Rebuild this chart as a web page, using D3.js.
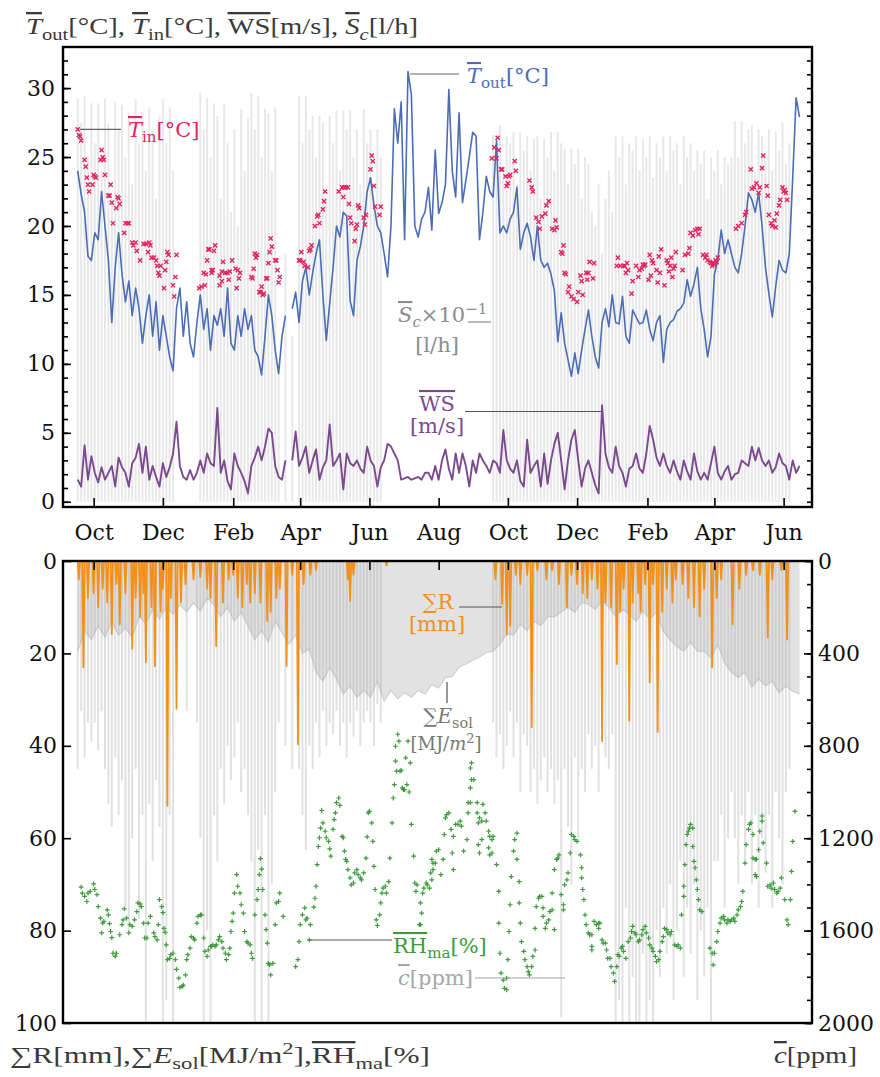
<!DOCTYPE html>
<html>
<head>
<meta charset="utf-8">
<script src="https://cdn.jsdelivr.net/npm/d3@7"></script>
<style>
  body { margin: 0; background: #fff; }
  svg { display: block; }
</style>
</head>
<body>
<svg id="chart" width="880" height="1077"></svg>
<script>
// ---- values ----
const seriesStart = "2020-09-17";   // day 0 of every day-offset below
const stepDays = 3;                 // T_out and WS are sampled every 3 days

const toutValues = [
  24,22.3,21,17.8,17.5,19.5,19,22.5,20,17.5, 13,17,19.5,16.5,14.5,16,13.5,15.5,14,11.5,
  13.5,15,12,14.5,11,13.5,12,10.5,9.5,14, 15.5,12,14.5,11.5,10.5,13,15,12.5,14,11,
  13.5,12.8,14,12,15.5,11.5,11,13.5,12,14, 12.5,13.5,11,10.5,9.2,12,15,13.5,11,9.3,
  12,13.5,null,14,15.2,13,16,17,15,16.6, 18,19,15,11.7,14.4,17,20,19.2,21,20.7,
  14.6,13.5,17.5,18.5,20,22.5,23.5,21.5,20,19.5, 18,16.3,20,28.5,26,29,19,31.2,29.5,20,
  19.2,20.5,21,22.8,19.7,25.5,20.9,21.7,23,29.9, 24,22.1,28.2,21.7,23.3,25,26.8,26.5,19,21,
  23.6,22.5,22.1,26.2,19.5,20,19.5,20.5,21,22.8, 18.3,19.5,20.2,19.2,17.5,20,17.5,17,17.3,16.5,
  15.3,11.6,13.7,11.5,10.3,9.1,10.8,9.3,11,12.5, 13.9,12,10.5,9.7,13,14,12.7,15,13,12.9,
  14.9,12,11.5,13.9,13.4,12.9,13,13.9,12.5,11.7, 13,13.5,10.1,12.5,13,13.2,13.8,14,14.4,16.1,
  14.9,15.8,17,14,12.5,10.5,12,16.5,17.5,19.7, 18,19,18,17,16.6,18,20,22.4,21.9,21,
  22.4,20,17,15.1,13.4,15.6,17.5,16.8,16.6,18, 23.5,29.3,27.9
];

const wsValues = [
  1.6,1.1,4.1,1.6,3.3,2.1,1.4,2.5,1.6,2.1, 2.6,1.1,3.2,2.5,2.1,1.1,2.8,3.2,4.2,2.1,
  4,1.6,2.6,1.8,1.1,2.8,1.8,2.5,3.5,5.8, 2.6,1.8,1.6,2.3,1.6,2.1,3,2.1,3.5,2.8,
  2.6,6.8,2.1,3,1.5,0.9,3.5,2.6,2.1,1.5, 0.6,2.6,3.2,4,3,4,5.3,5,2.6,1.8,
  1.6,3,null,3,5.1,2.6,3.2,4,2.1,3, 3.8,1.6,2.5,3,5.6,2.6,3,3.5,0.9,3.5,
  2.8,2.6,3,2.4,2.1,4,3,2.6,1.1,2.5, 3,4.2,4,3.5,3,1.6,1.7,1.8,1.6,1.7,
  1.8,1.6,2.1,2.1,1.6,2.6,1.6,3,3.8,2.4, 1.6,3.5,2.1,3.5,2.6,1.1,3,2.1,3.5,3,
  2.6,2.1,3,2.8,2.1,5.2,3,2.4,2.1,3, 1.5,1.1,4.5,2.1,2.6,3,1.1,3.5,1.3,3,
  4.2,5,3,0.9,3,4.5,5.2,3,1.1,2.4, 3,2.1,1.2,0.6,7,3.5,2.5,2.1,4,2.6,
  2.1,1.1,2.4,2.6,3.5,2.4,2.1,3.5,5.5,4.5, 3.2,2.6,3.5,2.6,2.1,3,2.2,1.6,3,2.2,
  1.6,3.5,2.2,1.6,2.1,1.6,2.8,4,2.1,1.6, 2.2,2.6,1.6,2,2.1,3,2.8,2.6,4,3,
  3.9,3,2.6,3,2.1,2.5,3.5,2.8,2.6,1.6, 3,2.1,2.6
];

// indoor temperature samples: [day offset, °C]
const tinPoints = [
  [0,27],[1,26.6],[2,26.5],[3,26.2],[6,24.8],[7,24.3],[8,23.5],[9,23],[10,22.5],[13,23],[14,23.7],[15,23.6],[16,23.5],
  [20,24.8],[21,25.5],[22,25],[23,24.8],[24,23.7],[27,22.2],[28,22.2],[29,23],[30,21.7],[31,20.2],[34,21.3],[35,22.1],
  [36,22],[37,21.6],[41,19.5],[42,20.2],[44,20.2],[45,20.2],[48,18.8],[49,18.6],[51,18.8],[52,18.2],[55,17.5],[58,18.7],
  [60,18.7],[62,18.1],[63,18.8],[64,18.6],[65,17.7],[67,17.7],[69,17.5],[70,17.1],[71,16.6],[72,16.4],[73,17.1],[76,15.5],
  [77,16.8],[78,17.4],[79,18.1],[80,17.9],[84,15.7],[85,14.9],[86,16.3],[87,17.9],
  [107,15.5],[109,15.6],[111,16.6],[112,15.7],[113,16.5],[114,17.5],[115,18.3],[116,18.3],[118,16.8],[118,16.6],[119,16.8],
  [120,18.2],[121,18.6],[125,16.4],[125,15.7],[127,16.7],[127,16],[128,17.4],[130,16.6],[132,16.6],[133,16.1],[134,16.7],
  [136,17.5],[139,16.9],[140,15.5],[141,16.8],[142,16.2],[143,16.6],[153,16.3],[154,16.2],[155,16.9],[156,18],[157,17.7],
  [158,17.9],[160,15.2],[161,15.2],[162,15.6],[163,15],[164,15.1],[166,16.2],[167,16.2],[168,17.3],[169,18.1],[170,19.1],
  [171,18.5],[174,17.5],[175,17.5],[176,16.8],[177,15.9],[178,16.3],
  [195,17.5],[196,17.5],[197,18.1],[199,17.4],[200,17.1],[203,17],[204,18.2],[205,18.3],[206,18.6],[209,20],[211,20.7],
  [212,20.8],[213,20.2],[216,21.2],[217,21.8],[218,22.5],[230,22.5],[233,22.8],[234,22.1],[235,22.8],[236,22.8],[238,22.8],
  [239,21.6],[240,20.6],[241,20.2],[244,18.9],[245,19.8],[246,20.1],[247,21.5],[248,21.3],[252,20.6],[253,20.1],[254,20.8],
  [258,24.1],[259,25.1],[260,24.7],[261,22.9],[262,21.4],[266,20.8],[267,21.4],
  [365,24.9],[367,25.7],[369,24.9],[370,26.4],[371,25.5],[373,24.1],[374,24.1],[377,23.6],[378,22.9],[379,23.1],[380,23.6],
  [381,23.7],[385,24.7],[386,24],[398,23.3],[400,22.8],[401,22.5],[404,20.6],[406,20.3],[407,19.8],[409,20.7],[412,20.9],
  [413,21.5],[415,21.8],[418,19.8],[420,19.7],[421,20.4],[422,19.9],[426,18.1],[427,18],[428,18.6],[429,16.6],[430,16.5],
  [432,15.2],[433,15.6],[435,14.9],[437,14.7],[440,14.5],[441,15.2],[443,16.4],[444,16],[445,15],[448,16.6],[449,16.1],
  [450,16.6],[451,17.4],[454,16.2],[455,17.3],
  [475,17.1],[476,17.7],[478,17.1],[481,17.1],[482,17.1],[483,16.6],[484,17.3],[485,16.8],[488,15.1],[489,16],[492,17.1],
  [494,16.3],[495,16.8],[497,16.9],[498,17.2],[499,17.1],[500,17.2],[503,16.1],[504,17.9],[505,16.4],[506,17.5],[507,17.3],
  [510,16.8],[511,15.9],[512,17.8],[513,16.6],[514,18.3],[517,15.7],[519,17.5],[520,17.3],[521,16.7],[522,17.1],[523,17.7],
  [524,16.3],[525,16.9],[526,17.1],[527,18.1],[533,16.8],[535,17.9],[538,18],[539,18.4],[540,19.5],[542,19.3],[544,19.7],
  [546,19.8],[547,19.4],[548,19.8],[551,17.9],[553,17.7],[554,17.9],[555,17.5],[557,17.4],[558,17.3],[559,17.1],[560,17.3],
  [561,17.2],[562,17.5],[563,17.4],[564,17.7],
  [580,19.8],[582,20],[585,20.2],[588,20.8],[589,21],[593,24.1],[594,22.7],[596,22.8],[598,23.1],[600,22.4],[601,22.8],
  [603,24.2],[604,25.1],[607,22.9],[608,22.2],[609,20.8],[611,20.2],[612,20],[614,20.4],[615,19.9],[616,20.9],[618,21.5],
  [619,21.9],[621,22.8],[622,22.5],[623,22.6],[624,22.4],[625,21.9]
];

// water consumption S_c x 0.1 [l/h], daily peaks every 3 days, two heating seasons
const scStart1 = "2020-09-17";
const scValues1 = [
  29.2,27.5,29.4,25,28.9,26,28.9,24,29.2,27.4, 22,29,27,28.8,25,28.2,23,29.2,26,28.3,
  24,28.6,27,22,28,29.2,26,28.6,24,0, 0,0,0,0,0,0,29.7,27,29.3,25,
  28.9,28,22,28.9,26,21,27,20,28.5,24, 27.8,29.6,27,29.4,25,28.5,28.2,24,28.6,10,
  0,18,0,12,0,29.4,26,29.4,27,28, 25,28,27.5,22,28,26,28.4,24,28.4,27,
  28.4,25,27,23,28.5,26,27,22,27,25
];
const scStart2 = "2021-09-18";
const scValues2 = [
  26.6,25,27.3,24,26.5,26,26.8,23,26.8,25.5, 26.5,24,26.3,26.5,22,26.3,25,26.8,24,26.8,
  26,25.6,23,25.6,24.5,25.6,22,25,24.5,21, 20,23,18,22,24,21,26.5,25,26.5,23,
  26,25.5,26.5,24,26.3,25,26.5,23.5,26,25, 26.5,24,26.5,25.5,26,23,26.5,25,26,24,
  25.5,24.5,25.5,22,25,24,25.5,23,25,24.5, 25,27.6,25,27.6,26,27,27.3,24,27,26.5,
  25,27,24,26.8,25.5,27.5,24.5,26
];

// CO2 daily peaks [ppm], same two seasons, every 3 days
const co2Values1 = [
  900,650,850,700,780,700,820,650,900,1050, 1150,850,1100,950,1500,1600,1200,900,1550,1100,
  2000,1050,1300,950,1150,2000,1900,1100,2000,0, 0,0,650,0,0,700,1200,2000,1600,2000,
  1100,1300,900,1050,800,950,850,700,1000,900, 1100,1300,2000,1250,2000,1100,2000,1400,1000,700,
  0,800,0,900,0,900,1100,1250,800,900, 700,850,650,800,700,750,650,800,700,850,
  700,760,650,800,700,650,700,800,620,700
];
const co2Values2 = [
  700,850,750,900,800,650,850,700,1000,750, 800,1000,900,1050,950,850,1000,900,1050,950,
  1975,900,1150,1400,850,1200,900,1000,750,900, 800,1000,700,850,900,750,2000,1900,2000,1500,
  2000,1800,2000,2000,1700,2000,1900,2000,1600,1800, 1500,1700,1400,1900,1600,1300,1800,1500,1700,1400,
  1900,1600,1800,1500,2000,1300,1300,1100,1500,1200, 1000,1200,1400,1100,1300,1000,1400,1100,1500,1200,
  1350,1100,1500,1000,1200,1400,1000,900
];

// daily solar energy sum [MJ/m2], every 6 days
const esolStep = 6;
const esolValues = [
  19.5,15,17,14,16.5,13,16,14.5,16.5,12, 13.5,10.5,12.5,10,11.5,9.5,11,9,10.8,8,
  9.5,12,10,13,11,14,17,15,17.5,13, 15.5,18,16,20,19,24,26,23,25.5,28.8,
  27,29.5,28,29.5,26,30.4,28,29.8,28.5,29.5, 28,28.8,26.7,27.5,25.2,25,23,22.3,21.5,20.8,
  19.8,19.5,18,15.8,16,13.7,15,13,14,12, 12.1,11,10,11,9,9.3,10.5,8.5,10,12,
  10.5,11.5,13,10.8,12.5,11,15.2,17,18.5,19.5, 17.5,19.5,19.5,21,18,22,24,25.2,24,27.3,
  25.5,27,26,28.5,27,28.2,28.8
];

// rain events: [day offset, daily sum mm]
const rainPoints = [
  [1,4],[5,23],[9,8],[14,7],[18,10],[22,6],[26,9],[30,15.8],[34,5],[37,13.7],[42,7],[48,19],[51,8],[55,12],[58,7],
  [60,21.9],[65,10],[68,22.8],[73,11],[75,6],[79,53],[82,8],[87,32],[91,9],[95,5],[102,4],[108,3.5],[114,6],[117,8],
  [122,18.4],[128,9],[133,4],[137,3],[141,8],[145,10],[149,5],[152,9],[156,7],[161,9],[167,13],[170,11],[175,8],[178,6],
  [184,22.7],[189,3],[194,39.7],[199,5],[205,3],[210,2],[238,4],[240,8.6],[243,3],[272,1],
  [368,4],[374,9.3],[378,15.8],[381,14],[386,3],[390,5],[396,3],[400,36],[405,2],[413,4],[418,2],[424,5],[431,10],
  [435,3],[440,5],[445,7],[449,8],[453,4],[458,6],[462,39],[465,9],[470,10],[475,22.3],[478,11],[481,6],[486,34.6],
  [489,9],[494,7],[496,11],[500,5],[504,26.3],[507,5],[511,37],[515,11],[519,6],[524,9],[527,4],[533,5],[538,8],
  [543,10],[548,12],[552,6],[559,23],[563,8],[567,4],[577,13.7],[583,6],[589,3],[595,2],[601,3],[608,16.5],[612,4],
  [620,2],[625,17]
];

// relative humidity (moving average): [day offset, %]
const rhPoints = [
  [3,70.6],[4,71.9],[6,72.6],[8,73.7],[9,71.9],[11,71.5],[14,69.9],[15,71.1],[17,72.2],[18,74.8],[20,77.3],[21,80.5],
  [22,78.4],[23,78],[26,75.5],[27,76.6],[28,78.5],[29,80.2],[30,81.5],[31,84.9],[33,85.6],[34,84.9],[37,80.9],[39,78.7],
  [40,77.7],[41,75.3],[43,77.3],[45,80.5],[46,78.7],[48,79.1],[50,77.7],[52,75.9],[53,74],[55,74.2],[56,74.8],[58,78.4],
  [59,81.6],[61,81.6],[62,78.4],[64,76.9],[67,80.5],[68,81.3],[70,82],[71,78.7],[72,73.3],[74,74.8],[75,76.1],[76,79.5],
  [77,80.4],[78,83.1],[79,86.3],[81,86],[82,85.2],[84,84.9],[86,86.3],[87,88.4],[89,90.3],[90,92.3],[92,92.1],[93,91.8],
  [95,89.6],[96,86.3],[97,85.2],[99,83.8],[100,81.3],[102,81.6],[103,82],[105,78.4],[106,76.9],[108,76.6],[109,76.6],
  [111,81.6],[112,84.5],[114,85.6],[115,84.2],[117,83.4],[118,83.4],[119,83.1],[121,83.4],[122,83.1],[124,82],[125,81.3],
  [127,82.4],[128,83.8],[130,84.9],[131,86.3],[133,85.2],[134,83.8],[135,80.2],[136,78],[137,76.2],[138,71.9],[140,67.9],
  [141,70.4],[143,71.9],[144,74.4],[146,76.2],[147,80.2],[149,82.4],[150,82.7],[152,83.1],[153,84.9],[154,86],[156,76.6],
  [158,73.3],[159,71.1],[160,67.9],[161,64.4],[162,66.7],[163,71.1],[165,76.6],[166,79.8],[167,82.7],[168,87.1],[169,87.4],
  [170,89.6],[172,87.1],[174,78.7],[175,74],[177,73.7],[178,71.9],[181,76.9],[192,87.8],[194,86.3],[195,82.4],[196,78.7],
  [198,76.6],[200,75.1],[201,77.7],[202,77.3],[204,82],[205,78.7],[208,74.9],[209,73],[210,70.4],[211,65.7],[212,61.8],
  [213,59.9],[214,57.8],[215,54],[216,56.7],[218,58.5],[219,59.9],[221,60.7],[222,62.3],[223,63.9],[225,58.1],[226,56],
  [227,54.5],[228,52.3],[230,51.3],[231,52.9],[233,59.6],[234,59.9],[235,62.8],[236,64.6],[237,65],[238,66.8],[240,68.6],
  [241,70.1],[243,69.7],[244,67.5],[246,66.8],[247,67.9],[249,68.6],[250,69],[252,67.5],[254,64.3],[255,59.7],[256,54.5],
  [257,54.2],[259,56.7],[260,60.7],[261,66.1],[262,71.1],[263,77.7],[264,78.9],[266,76.6],[267,74],[268,71.9],[269,70.8],
  [271,70.4],[272,71.9],[274,69.4],[275,64.3],[277,56.7],[278,51.3],[279,48.4],[280,43.3],[280,40.1],[281,45.5],[282,37.5],
  [283,39],[284,45.5],[285,45.3],[286,49.1],[287,49.5],[288,49.5],[289,42.6],[290,48.4],[291,39],[292,50],[293,43.7],
  [294,57],[296,63.9],[297,69.7],[298,71.5],[299,70.1],[301,78.7],[302,74],[303,76.2],[302,78.7],[304,71.9],[305,70.8],
  [307,69.7],[308,70.1],[310,70.8],[311,67.5],[312,69],[312,64.6],[313,66.8],[313,65.4],[315,65.4],[316,62.8],[318,62.5],
  [320,67.9],[322,64.6],[323,59.2],[324,55.6],[325,54.9],[327,54.5],[329,58.1],[330,63.2],[331,59.6],[331,66.8],[333,57],
  [335,57],[337,56.3],[338,57.4],[340,62.8],[343,60.3],[344,54.5],[344,52.3],[346,49.1],[346,44.8],[346,52.3],[347,43.7],
  [347,47.3],[349,47.3],[352,52.3],[352,54.5],[353,56.7],[353,61.4],[354,55.6],[354,63.2],[356,56.3],[356,60.3],[357,52.7],
  [359,54.5],[360,56.3],[362,58.5],[362,62.1],[363,59.6],[363,63.6],[365,60.3],[365,63.2],[366,59.6],[369,65.7],[371,71.5],
  [371,78.4],[372,84.9],[373,89.2],[375,90.7],[376,92.5],[378,92.8],[378,90.3],[379,86.3],[380,80.2],[381,74.4],[382,68.3],
  [384,62.8],[385,60.3],[387,58.9],[387,64.6],[389,69.4],[389,74],[390,78.4],[391,82.4],[393,84.5],[394,86.3],[396,87.8],
  [397,88.9],[398,89.6],[400,87.8],[401,85.6],[403,84.2],[403,79.5],[404,74.8],[406,73],[407,72.6],[409,72.6],[410,75.1],
  [410,76.9],[412,79.5],[413,78.4],[415,77.7],[416,75.9],[418,75.5],[418,71.9],[420,66.8],[420,79.8],[422,64.6],[423,64.3],
  [424,63.6],[426,72.2],[428,74.4],[428,75.5],[429,70.1],[431,69],[432,67.5],[434,63.2],[435,59.2],[437,59.6],[438,60.3],
  [440,60.7],[443,63.6],[444,66.4],[444,68.6],[445,71.1],[446,73.3],[447,76.6],[448,78.7],[450,80.5],[451,80.9],[453,80.9],
  [453,83.4],[453,84.2],[455,78],[457,78.7],[459,78.4],[459,79.5],[460,78.4],[462,82],[463,82.7],[465,82.7],[466,84.2],
  [467,86],[469,86],[470,87.8],[472,89.2],[473,91],[475,87.8],[476,85.2],[477,85.6],[479,83.8],[480,83.4],[481,84.5],
  [483,86],[485,82.4],[487,81.6],[488,80.2],[489,79.1],[491,80.5],[492,80.9],[494,82.4],[495,82],[497,80.9],[498,79.8],
  [500,79.1],[501,80.5],[503,81.6],[504,83.1],[506,83.8],[507,84.5],[509,85.6],[510,86.7],[512,86.3],[513,84.5],[515,82.4],
  [516,81.3],[517,79.5],[519,79.8],[520,80.5],[522,80.9],[523,80.2],[526,83.1],[528,83.4],[529,83.1],[531,83.8],[532,76.6],
  [534,72.6],[534,70.4],[535,65.7],[536,61.4],[537,59.2],[538,58.5],[539,57.8],[540,57],[542,57.8],[542,61.8],[543,65],
  [544,66.4],[545,69],[546,71.1],[547,73.3],[548,75.5],[550,75.9],[557,83.8],[559,84.9],[560,87.4],[561,84.9],[563,82.4],
  [564,80.2],[566,78.4],[567,77.3],[569,76.9],[570,77.7],[572,78.4],[573,77.7],[575,78],[576,77.7],[578,77.3],[579,78],
  [581,76.6],[582,75.5],[584,74.8],[585,73.7],[586,71.5],[588,65.4],[589,61.4],[591,58.1],[592,57],[593,56.7],[595,59.2],
  [595,64.3],[597,64.6],[597,67.9],[598,64.6],[598,68.3],[600,62.5],[601,58.5],[603,56.3],[603,55.2],[604,61],[607,65.4],
  [608,70.4],[610,70.1],[611,70.8],[613,69.7],[614,71.1],[616,71.9],[617,71.5],[619,70.8],[620,68.6],[623,73.3],[625,77.7],
  [626,78.7],[628,73.3],[629,67.2],[630,60.7],[632,54.2]
];

const monthTicks = ["2020-10-01","2020-12-01","2021-02-01","2021-04-01","2021-06-01","2021-08-01",
                    "2021-10-01","2021-12-01","2022-02-01","2022-04-01","2022-06-01"];
const monthLabels = ["Oct","Dec","Feb","Apr","Jun","Aug","Oct","Dec","Feb","Apr","Jun"];
const topTicks = [0, 5, 10, 15, 20, 25, 30];
const leftTicks = [0, 20, 40, 60, 80, 100];
const rightTicks = [0, 400, 800, 1200, 1600, 2000];

// ---- layout ----
const DAY = 864e5;
const parse = s => new Date(s + "T00:00:00Z");
const t0 = parse(seriesStart).getTime();
const dayDate = d => new Date(t0 + d * DAY);

const X0 = 63, X1 = 812;
const TOP = { y0: 47, y1: 507 };
const BOT = { y0: 561, y1: 1023 };
const tickFont = "DejaVu Serif";
const texFont = "Liberation Serif";

const svg = d3.select("#chart");

const x = d3.scaleUtc()
  .domain([parse("2020-09-04"), parse("2022-06-26")])
  .range([X0, X1]);
const yTop = d3.scaleLinear().domain([-0.38, 32.98]).range([TOP.y1, TOP.y0]);
const yL = d3.scaleLinear().domain([0, 100]).range([BOT.y0, BOT.y1]);
const yR = d3.scaleLinear().domain([0, 2000]).range([BOT.y0, BOT.y1]);

const defs = svg.append("defs");
defs.append("clipPath").attr("id", "clipTop").append("rect")
  .attr("x", X0).attr("y", TOP.y0).attr("width", X1 - X0).attr("height", TOP.y1 - TOP.y0);
defs.append("clipPath").attr("id", "clipBot").append("rect")
  .attr("x", X0).attr("y", BOT.y0).attr("width", X1 - X0).attr("height", BOT.y1 - BOT.y0);

// text with sub/superscripts and overlines; optional stretch to a given width
function rich(sel, px, py, parts, size, color, family, anchor, width) {
  const t = sel.append("text")
    .attr("x", px).attr("y", py)
    .attr("font-size", size).attr("fill", color)
    .attr("font-family", family)
    .attr("text-anchor", anchor || "start");
  if (width) t.attr("textLength", width).attr("lengthAdjust", "spacingAndGlyphs");
  let shift = 0;
  parts.forEach(p => {
    const target = p.sub ? size * 0.24 : p.sup ? -size * 0.4 : 0;
    const ts = t.append("tspan").attr("dy", target - shift).text(p.t);
    shift = target;
    if (p.sub || p.sup) ts.attr("font-size", size * 0.72);
    if (p.it) ts.attr("font-style", "italic");
    if (p.ov) ts.attr("text-decoration", "overline");
  });
  return t;
}

function spikeData(start, values) {
  const s = parse(start).getTime();
  return values.map((v, i) => ({ date: new Date(s + i * stepDays * DAY), v })).filter(d => d.v > 0);
}

// ================= top panel =================
const topG = svg.append("g").attr("clip-path", "url(#clipTop)");

// S_c spikes
topG.append("g").selectAll("line")
  .data(spikeData(scStart1, scValues1).concat(spikeData(scStart2, scValues2)))
  .join("line")
  .attr("x1", d => x(d.date)).attr("x2", d => x(d.date))
  .attr("y1", yTop(0)).attr("y2", d => yTop(d.v))
  .attr("stroke", "#e8e8e8").attr("stroke-width", 2);

// T_out
const toutData = toutValues.map((v, i) => ({ date: dayDate(i * stepDays), v }));
topG.append("path").datum(toutData)
  .attr("fill", "none").attr("stroke", "#4a6db5").attr("stroke-width", 1.6)
  .attr("stroke-linejoin", "round")
  .attr("d", d3.line().defined(d => d.v != null).x(d => x(d.date)).y(d => yTop(d.v)));

// T_in crosses
topG.append("g").selectAll("path")
  .data(tinPoints)
  .join("path")
  .attr("transform", d => `translate(${x(dayDate(d[0]))},${yTop(d[1])})`)
  .attr("d", "M-2.1,-2.1L2.1,2.1M-2.1,2.1L2.1,-2.1")
  .attr("stroke", "#e3245f").attr("stroke-width", 1.4).attr("fill", "none");

// WS
const wsData = wsValues.map((v, i) => ({ date: dayDate(i * stepDays), v }));
topG.append("path").datum(wsData)
  .attr("fill", "none").attr("stroke", "#7b4a8e").attr("stroke-width", 1.9)
  .attr("stroke-linejoin", "round")
  .attr("d", d3.line().defined(d => d.v != null).x(d => x(d.date)).y(d => yTop(d.v)));

// annotations (top)
const lead = (x1, y1, x2, y2, c) => svg.append("line")
  .attr("x1", x1).attr("y1", y1).attr("x2", x2).attr("y2", y2)
  .attr("stroke", c || "#666").attr("stroke-width", 1.2);

lead(x(dayDate(0)) + 2, yTop(27), 121, yTop(27));
rich(svg, 128, 137, [{ t: "T", it: 1, ov: 1 }, { t: "in", sub: 1 }, { t: "[°C]" }], 21, "#e3245f", tickFont);

lead(x(dayDate(97 * stepDays)) + 2, 74, 459, 74);
rich(svg, 467, 83, [{ t: "T", it: 1, ov: 1 }, { t: "out", sub: 1 }, { t: "[°C]" }], 21, "#4a6db5", tickFont);

rich(svg, 398, 322, [{ t: "S", it: 1, ov: 1 }, { t: "c", it: 1, sub: 1 }, { t: "×10" }, { t: "−1", sup: 1 }], 21, "#8c8c8c", tickFont);
lead(468, 322, 491, 322, "#8c8c8c");
rich(svg, 437, 352, [{ t: "[l/h]" }], 21, "#8c8c8c", tickFont, "middle");

rich(svg, 437, 411, [{ t: "WS", ov: 1 }], 21, "#7b4a8e", tickFont, "middle");
rich(svg, 437, 433, [{ t: "[m/s]" }], 21, "#7b4a8e", tickFont, "middle");
lead(465, 411.5, x(dayDate(154 * stepDays)), 411.5, "#555");

// frame + axes (top)
svg.append("rect").attr("x", X0).attr("y", TOP.y0).attr("width", X1 - X0).attr("height", TOP.y1 - TOP.y0)
  .attr("fill", "none").attr("stroke", "#000").attr("stroke-width", 2.4);

function styleAxis(g) {
  g.select(".domain").remove();
  g.selectAll(".tick line").attr("stroke", "#000").attr("stroke-width", 1.6);
  g.selectAll(".tick text").attr("font-family", tickFont).attr("font-size", 22).attr("fill", "#111");
}

svg.append("g").attr("transform", `translate(${X0},0)`)
  .call(d3.axisLeft(yTop).tickValues(d3.range(0, 33)).tickSize(-5).tickFormat(""))
  .call(styleAxis);
svg.append("g").attr("transform", `translate(${X0},0)`)
  .call(d3.axisLeft(yTop).tickValues(topTicks).tickSize(-8).tickPadding(8).tickFormat(d3.format("d")))
  .call(styleAxis);
svg.append("g").attr("transform", `translate(${X1},0)`)
  .call(d3.axisRight(yTop).tickValues(d3.range(0, 33)).tickSize(-5).tickFormat(""))
  .call(styleAxis);

const monthDates = monthTicks.map(parse);
svg.append("g").attr("transform", `translate(0,${TOP.y1})`)
  .call(d3.axisBottom(x).tickValues(monthDates).tickSize(-9).tickPadding(17).tickFormat((d, i) => monthLabels[i]))
  .call(styleAxis);

// title
rich(svg, 26, 34, [
  { t: "T", it: 1, ov: 1 }, { t: "out", sub: 1 }, { t: "[°C], " },
  { t: "T", it: 1, ov: 1 }, { t: "in", sub: 1 }, { t: "[°C], " },
  { t: "WS", ov: 1 }, { t: "[m/s], " },
  { t: "S", it: 1, ov: 1 }, { t: "c", it: 1, sub: 1 }, { t: "[l/h]" }
], 23, "#3a3a3a", texFont, "start", 392);

// ================= bottom panel =================
const botG = svg.append("g").attr("clip-path", "url(#clipBot)");

// E_sol area
const esolData = esolValues.map((v, i) => ({ date: dayDate(i * esolStep), v }));
botG.append("path").datum(esolData)
  .attr("fill", "#e2e2e2")
  .attr("d", d3.area().x(d => x(d.date)).y0(yL(0)).y1(d => yL(d.v)));
botG.append("path").datum(esolData)
  .attr("fill", "none").attr("stroke", "#cfcfcf").attr("stroke-width", 1.2)
  .attr("d", d3.line().x(d => x(d.date)).y(d => yL(d.v)));

// CO2 spikes
botG.append("g").selectAll("line")
  .data(spikeData(scStart1, co2Values1).concat(spikeData(scStart2, co2Values2)))
  .join("line")
  .attr("x1", d => x(d.date)).attr("x2", d => x(d.date))
  .attr("y1", yR(0)).attr("y2", d => yR(d.v))
  .attr("stroke", "#a8a8a8").attr("stroke-opacity", 0.35).attr("stroke-width", 2);

// rain spikes
botG.append("g").selectAll("path")
  .data(rainPoints)
  .join("path")
  .attr("d", d => `M${x(dayDate(d[0] - 1))},${yL(0)}L${x(dayDate(d[0]))},${yL(d[1])}L${x(dayDate(d[0] + 1))},${yL(0)}`)
  .attr("fill", "none").attr("stroke", "#f39019").attr("stroke-width", 1.8).attr("stroke-linejoin", "round");

// RH crosses
botG.append("g").selectAll("path")
  .data(rhPoints)
  .join("path")
  .attr("transform", d => `translate(${x(dayDate(d[0]))},${yL(d[1])})`)
  .attr("d", "M-2.4,0H2.4M0,-2.4V2.4")
  .attr("stroke", "#3d9b3d").attr("stroke-width", 1.2);

// annotations (bottom)
rich(svg, 438, 609, [{ t: "∑R" }], 21, "#f39019", tickFont, "middle");
rich(svg, 437, 631, [{ t: "[mm]" }], 21, "#f39019", tickFont, "middle");
lead(459, 607, 502, 607, "#555");

lead(447, 682, 447, 703, "#555");
rich(svg, 448, 723, [{ t: "∑" }, { t: "E", it: 1 }, { t: "sol", sub: 1 }], 20, "#777", tickFont, "middle");
rich(svg, 446, 750, [{ t: "[MJ/" }, { t: "m", it: 1 }, { t: "2", sup: 1 }, { t: "]" }], 18, "#777", tickFont, "middle");

lead(x(dayDate(204)), 940, 392, 940, "#555");
rich(svg, 393, 953, [{ t: "RH", ov: 1 }, { t: "ma", sub: 1 }, { t: "[%]" }], 21, "#3d9b3d", tickFont);

rich(svg, 398, 985, [{ t: "c", it: 1, ov: 1 }, { t: "[ppm]" }], 21, "#a6a6a6", tickFont);
lead(475, 978, 565, 978, "#a6a6a6");

// frame + axes (bottom)
svg.append("rect").attr("x", X0).attr("y", BOT.y0).attr("width", X1 - X0).attr("height", BOT.y1 - BOT.y0)
  .attr("fill", "none").attr("stroke", "#000").attr("stroke-width", 2.4);

svg.append("g").attr("transform", `translate(${X0},0)`)
  .call(d3.axisLeft(yL).tickValues(leftTicks).tickSize(-8).tickPadding(6).tickFormat(d3.format("d")))
  .call(styleAxis);
svg.append("g").attr("transform", `translate(${X1},0)`)
  .call(d3.axisRight(yR).tickValues(d3.range(0, 2001, 100)).tickSize(-5).tickFormat(""))
  .call(styleAxis);
svg.append("g").attr("transform", `translate(${X1},0)`)
  .call(d3.axisRight(yR).tickValues(rightTicks).tickSize(-8).tickPadding(6).tickFormat(d3.format("d")))
  .call(styleAxis);
svg.append("g").attr("transform", `translate(0,${BOT.y0})`)
  .call(d3.axisTop(x).tickValues(monthDates).tickSize(-9).tickFormat(""))
  .call(styleAxis);

// bottom captions
rich(svg, 10, 1063, [
  { t: "∑" }, { t: "R[mm]," }, { t: "∑" }, { t: "E", it: 1 }, { t: "sol", sub: 1 },
  { t: "[MJ/m" }, { t: "2", sup: 1 }, { t: "]," }, { t: "RH", ov: 1 }, { t: "ma", sub: 1 }, { t: "[%]" }
], 23, "#3a3a3a", texFont, "start", 420);
rich(svg, 774, 1063, [{ t: "c", it: 1, ov: 1 }, { t: "[ppm]" }], 23, "#3a3a3a", texFont, "start", 83);
</script>
</body>
</html>
